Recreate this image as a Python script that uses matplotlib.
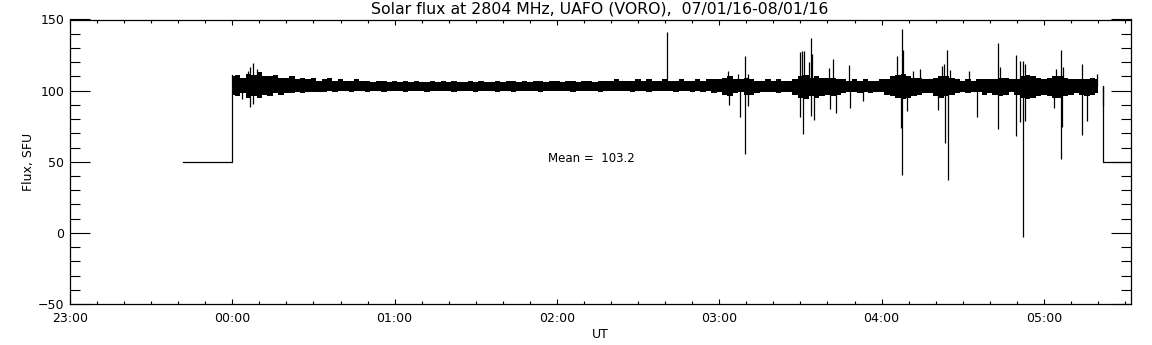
import numpy as np
import matplotlib
matplotlib.use("Agg")
import matplotlib.pyplot as plt

# --- data (time in minutes after 00:00 UT, flux in SFU) ---
pre_t = [-18.1, 0.0, 0.0]
pre_v = [50, 50, 111]
post_t = [322.0, 322.0, 332.2]
post_v = [103, 50, 50]

band_t = list(range(0, 322, 2))
band_hi = [110, 111, 109, 112, 111, 113, 110, 110, 111, 109,
           109, 110, 108, 109, 108, 109, 107, 108, 109, 107,
           108, 107, 107, 108, 107, 107, 106, 107, 107, 106,
           107, 106, 107, 106, 107, 106, 106, 107, 106, 107,
           106, 107, 106, 106, 107, 106, 107, 106, 106, 107,
           106, 107, 107, 106, 107, 106, 107, 107, 106, 107,
           107, 106, 107, 107, 106, 107, 107, 106, 107, 107,
           107, 108, 107, 107, 107, 108, 107, 108, 107, 107,
           108, 107, 107, 108, 107, 107, 108, 107, 108, 108,
           108, 109, 110, 108, 108, 109, 108, 107, 107, 108,
           107, 108, 107, 107, 108, 110, 111, 109, 110, 109,
           109, 109, 108, 108, 107, 108, 107, 108, 107, 107,
           108, 108, 110, 111, 112, 110, 109, 109, 108, 108,
           109, 110, 110, 109, 108, 107, 108, 107, 108, 108,
           108, 108, 109, 109, 108, 108, 110, 111, 110, 109,
           108, 109, 110, 110, 109, 108, 108, 108, 108, 109,
           108]
band_lo = [97, 96, 98, 95, 96, 95, 97, 96, 98, 97,
           98, 98, 99, 98, 99, 99, 99, 99, 100, 99,
           100, 100, 99, 100, 100, 99, 100, 100, 99, 100,
           100, 100, 99, 100, 100, 100, 99, 100, 100, 100,
           100, 99, 100, 100, 100, 99, 100, 100, 100, 99,
           100, 100, 99, 100, 100, 100, 100, 99, 100, 100,
           100, 100, 100, 99, 100, 100, 100, 100, 99, 100,
           100, 100, 100, 100, 99, 100, 100, 99, 100, 100,
           100, 100, 99, 100, 100, 99, 100, 99, 100, 98,
           99, 97, 96, 98, 99, 97, 97, 98, 99, 99,
           99, 98, 99, 99, 97, 95, 94, 96, 95, 96,
           97, 96, 97, 98, 99, 99, 98, 99, 98, 99,
           99, 97, 96, 95, 94, 95, 96, 97, 98, 98,
           96, 95, 96, 97, 98, 99, 98, 99, 99, 97,
           98, 97, 96, 97, 99, 97, 95, 94, 95, 96,
           97, 96, 95, 95, 96, 97, 98, 97, 96, 97,
           98]

up_t = [5.9, 6.5, 7.5, 9.0, 160.8, 183.4, 187.0, 189.5, 190.8, 209.9, 210.7,
        211.4, 213.0, 214.0, 214.4, 220.6, 222.2, 228.0, 245.6, 247.5, 248.1,
        251.7, 254.2, 262.3, 263.1, 264.1, 265.3, 272.5, 283.2, 283.8, 289.7,
        291.0, 292.2, 293.1, 304.5, 306.3, 307.2, 314.0, 319.6]
up_v = [114, 116.4, 119.5, 115, 141.5, 114, 111.7, 124.6, 112, 127, 128,
        128, 120, 137, 126, 116, 122, 118, 124.6, 143.4, 128.6,
        114, 115, 117.6, 119, 128.6, 114.5, 114, 133.6, 116.4, 125,
        121, 120.6, 118.8, 115, 128.6, 116.4, 118.8, 111.7]

dn_t = [3.5, 6.5, 7.5, 183.6, 187.7, 189.5, 190.5, 209.9, 211.0, 214.0, 215.0,
        221.0, 223.0, 228.4, 233.2, 247.1, 247.5, 249.3, 261.0, 263.5, 264.5,
        275.2, 283.2, 289.7, 291.0, 292.2, 293.1, 303.8, 306.3, 306.7, 314.0,
        316.1, 321.8]
dn_v = [94, 88.3, 90.6, 90, 81.2, 55.4, 89.4, 81.7, 69.5, 82.4, 79.4,
        87, 84, 87.8, 92.5, 74, 40.9, 86, 86.4, 62.9, 37.5,
        81.2, 72.8, 68.3, 77.7, -2.6, 78.9, 88, 51.9, 74.2, 68.8,
        78.9, 89.4]

mean_flux = 103.2
hour_ticks = [-60, 0, 60, 120, 180, 240, 300]
hour_labels = ["23:00", "00:00", "01:00", "02:00", "03:00", "04:00", "05:00"]

# --- plot ---
plt.rcParams["font.family"] = "DejaVu Sans"
fig = plt.figure(figsize=(11.52, 3.45), dpi=100)
ax = fig.add_axes([70 / 1152, 1 - 304 / 345, 1061 / 1152, 284.5 / 345])

ax.plot(pre_t, pre_v, color="black", lw=0.9)
ax.plot(post_t, post_v, color="black", lw=0.9)
ax.fill_between(band_t, band_lo, band_hi, step="mid", color="black", lw=0)
ax.vlines(up_t, mean_flux, up_v, color="black", lw=0.9)
ax.vlines(dn_t, dn_v, mean_flux, color="black", lw=0.9)

ax.text(116.7, 52, "Mean =  %.1f" % mean_flux, fontsize=8.5, va="center", ha="left")

ax.set_xlim(-60, 332.2)
ax.set_ylim(-50, 150)
ax.set_xticks(hour_ticks, hour_labels)
ax.set_xticks(np.arange(-50, 332, 10), minor=True)
ax.set_yticks([-50, 0, 50, 100, 150])
ax.set_yticks(np.arange(-40, 141, 10), minor=True)

ax.tick_params(axis="x", which="major", direction="in", length=3.8, width=0.8,
               top=True, labelsize=9, pad=6)
ax.tick_params(axis="x", which="minor", direction="in", length=1.9, width=0.8, top=True)
ax.tick_params(axis="y", which="major", direction="in", length=14.4, width=0.8,
               right=True, labelsize=9, pad=4)
ax.tick_params(axis="y", which="minor", direction="in", length=7.2, width=0.8, right=True)
for s in ax.spines.values():
    s.set_linewidth(0.9)

ax.set_xlabel("UT", fontsize=9, labelpad=2)
ax.set_ylabel("Flux, SFU", fontsize=9, labelpad=2)
fig.text(600 / 1152, 1 - 9 / 345, "Solar flux at 2804 MHz, UAFO (VORO),  07/01/16-08/01/16",
         ha="center", va="center", fontsize=11.3)

fig.savefig("out.png", dpi=100)
